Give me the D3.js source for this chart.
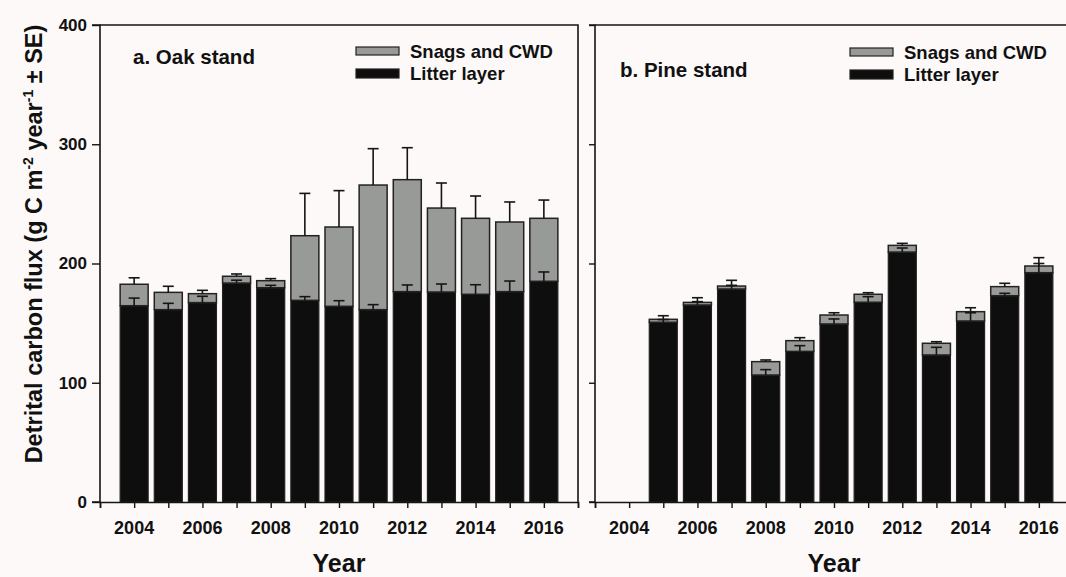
<!DOCTYPE html>
<html>
<head>
<meta charset="utf-8">
<script src="https://cdn.jsdelivr.net/npm/d3@7"></script>
<style>
  html, body { margin: 0; padding: 0; background: #fcf9f8; }
  svg { display: block; font-family: "Liberation Sans", Arial, sans-serif; }
</style>
</head>
<body>
<svg id="chart" width="1066" height="577"></svg>
<script>
// Annual detrital carbon flux, stacked: litter layer + snags and CWD
const years = [2004, 2005, 2006, 2007, 2008, 2009, 2010, 2011, 2012, 2013, 2014, 2015, 2016];
const yearTicks = [2004, 2006, 2008, 2010, 2012, 2014, 2016];
const yTicks = [0, 100, 200, 300, 400];
const seriesNames = ["Snags and CWD", "Litter layer"];

// Oak stand
const oakLitter   = [164.6, 161.3, 167.2, 183.6, 179.7, 169.1, 164.1, 161.3, 176.4, 176.1, 174.2, 176.4, 185.1];
const oakLitterSE = [6.4, 5.3, 5.3, 2.4, 2.0, 3.1, 4.7, 4.2, 5.6, 6.7, 8.0, 8.9, 7.8];
const oakSnags    = [18.0, 14.5, 7.5, 5.7, 5.9, 54.2, 66.5, 104.5, 93.9, 70.4, 63.7, 58.4, 52.8];
const oakTotalSE  = [5.4, 5.1, 2.8, 1.9, 1.7, 35.5, 30.5, 30.5, 26.8, 21.0, 18.7, 16.8, 15.3];

// Pine stand (no record for 2004)
const pineLitter   = [null, 150.7, 165.2, 178.6, 106.5, 126.3, 149.3, 167.5, 209.6, 123.3, 151.8, 173.0, 192.3];
const pineLitterSE = [null, 2.3, 2.8, 3.1, 4.5, 4.8, 4.2, 4.7, 3.4, 6.4, 6.9, 2.0, 7.7];
const pineSnags    = [null, 2.5, 2.2, 2.5, 11.2, 9.0, 7.5, 6.7, 5.6, 9.8, 7.8, 7.6, 5.6];
const pineTotalSE  = [null, 3.0, 3.9, 4.8, 1.4, 2.5, 1.9, 1.3, 1.7, 1.3, 3.3, 2.8, 7.0];

const colors = { snags: "#979a97", litter: "#0e0e0e", edge: "#222222", axis: "#151515" };

const svg = d3.select("#chart");
const plotTop = 25, plotBottom = 502, panelW = 478;

const y = d3.scaleLinear().domain([0, 400]).range([plotBottom, plotTop]);

function panel(cfg) {
  const g = svg.append("g");
  const x = d3.scaleLinear().domain([2003, 2017]).range([cfg.x0, cfg.x0 + panelW]);
  const barW = 28;

  const rows = years.map((yr, i) => ({
    year: yr,
    litter: cfg.litter[i],
    litterSE: cfg.litterSE[i],
    snags: cfg.snags[i],
    totalSE: cfg.totalSE[i]
  })).filter(d => d.litter != null);

  // litter layer (bottom segment)
  g.selectAll("rect.litter").data(rows).join("rect")
    .attr("class", "litter")
    .attr("x", d => x(d.year) - barW / 2)
    .attr("width", barW)
    .attr("y", d => y(d.litter))
    .attr("height", d => y(0) - y(d.litter))
    .attr("fill", colors.litter)
    .attr("stroke", colors.edge).attr("stroke-width", 1.2);

  // snags and CWD (stacked on top)
  g.selectAll("rect.snags").data(rows).join("rect")
    .attr("class", "snags")
    .attr("x", d => x(d.year) - barW / 2)
    .attr("width", barW)
    .attr("y", d => y(d.litter + d.snags))
    .attr("height", d => y(d.litter) - y(d.litter + d.snags))
    .attr("fill", colors.snags)
    .attr("stroke", colors.edge).attr("stroke-width", 1.5);

  // upper error bars (± SE shown upward only)
  const cap = 5.5;
  function errBars(cls, base, se) {
    const eg = g.selectAll("g." + cls).data(rows).join("g").attr("class", cls)
      .attr("stroke", colors.axis).attr("stroke-width", 1.6);
    eg.append("line")
      .attr("x1", d => x(d.year)).attr("x2", d => x(d.year))
      .attr("y1", d => y(base(d))).attr("y2", d => y(base(d) + se(d)));
    eg.append("line")
      .attr("x1", d => x(d.year) - cap).attr("x2", d => x(d.year) + cap)
      .attr("y1", d => y(base(d) + se(d))).attr("y2", d => y(base(d) + se(d)));
  }
  errBars("err-total", d => d.litter + d.snags, d => d.totalSE);
  errBars("err-litter", d => d.litter, d => d.litterSE);

  // axes
  const xAxis = d3.axisBottom(x).tickValues(d3.range(2003, 2018)).tickSize(6).tickFormat("");
  const gx = g.append("g").attr("transform", `translate(0,${plotBottom})`).call(xAxis);
  gx.select(".domain").attr("stroke", colors.axis).attr("stroke-width", 1.6);
  gx.selectAll(".tick line").attr("stroke", colors.axis).attr("stroke-width", 1.4);

  g.selectAll("text.xlab").data(yearTicks).join("text")
    .attr("class", "xlab")
    .attr("x", d => x(d)).attr("y", plotBottom + 32)
    .attr("text-anchor", "middle")
    .attr("font-size", 18).attr("font-weight", "bold").attr("fill", "#111")
    .text(d => d);

  const yAxis = d3.axisLeft(y).tickValues(yTicks).tickSize(cfg.tickLen)
    .tickFormat(cfg.yLabels ? d3.format("d") : "");
  const gy = g.append("g").attr("transform", `translate(${cfg.x0},0)`).call(yAxis);
  gy.select(".domain").attr("stroke", colors.axis).attr("stroke-width", 1.6)
    .attr("d", `M${-cfg.tickLen},${plotTop}H0V${plotBottom}H${-cfg.tickLen}`);
  gy.selectAll(".tick line").attr("stroke", colors.axis).attr("stroke-width", 1.4);
  gy.selectAll(".tick text").attr("font-size", 17).attr("font-weight", "bold")
    .attr("fill", "#111").attr("x", -cfg.tickLen - 5).style("font-family", "Liberation Sans, Arial, sans-serif");

  // frame: top and right
  g.append("path")
    .attr("d", `M${cfg.x0},${plotTop}H${cfg.x0 + panelW}V${plotBottom}`)
    .attr("fill", "none").attr("stroke", colors.axis).attr("stroke-width", 1.6);

  // panel title
  g.append("text")
    .attr("x", cfg.x0 + cfg.titleDx).attr("y", cfg.titleY)
    .attr("font-size", 20.5).attr("font-weight", "bold").attr("fill", "#111")
    .text(cfg.title);

  // legend
  const lg = g.append("g").attr("transform", `translate(${cfg.legendX},${cfg.legendY})`);
  const legendFill = [colors.snags, colors.litter];
  seriesNames.forEach((name, i) => {
    lg.append("rect")
      .attr("x", 0).attr("y", i * 22 - 5).attr("width", 43).attr("height", 8 + i)
      .attr("fill", legendFill[i]).attr("stroke", colors.edge).attr("stroke-width", 1.2);
    lg.append("text")
      .attr("x", 54).attr("y", i * 22 + 6)
      .attr("font-size", 18.5).attr("font-weight", "bold").attr("fill", "#111")
      .text(name);
  });

  // x axis title
  g.append("text")
    .attr("x", cfg.x0 + panelW / 2).attr("y", 572)
    .attr("text-anchor", "middle")
    .attr("font-size", 25).attr("font-weight", "bold").attr("fill", "#111")
    .text("Year");
}

panel({
  x0: 100, litter: oakLitter, litterSE: oakLitterSE, snags: oakSnags, totalSE: oakTotalSE,
  yLabels: true, tickLen: 8, title: "a. Oak stand", titleDx: 33, titleY: 64,
  legendX: 356, legendY: 52
});
panel({
  x0: 595, litter: pineLitter, litterSE: pineLitterSE, snags: pineSnags, totalSE: pineTotalSE,
  yLabels: false, tickLen: 6, title: "b. Pine stand", titleDx: 25, titleY: 77,
  legendX: 850, legendY: 53
});

// shared y axis title with superscripts
const yt = svg.append("text")
  .attr("transform", "translate(42,244) rotate(-90)")
  .attr("text-anchor", "middle")
  .attr("font-size", 23.5).attr("font-weight", "bold").attr("fill", "#111");
yt.append("tspan").text("Detrital carbon flux (g C m");
yt.append("tspan").attr("dy", -9).attr("font-size", 14).text("-2");
yt.append("tspan").attr("dy", 9).text(" year");
yt.append("tspan").attr("dy", -9).attr("font-size", 14).text("-1");
yt.append("tspan").attr("dy", 9).text(" \u00b1 SE)");
</script>
</body>
</html>
